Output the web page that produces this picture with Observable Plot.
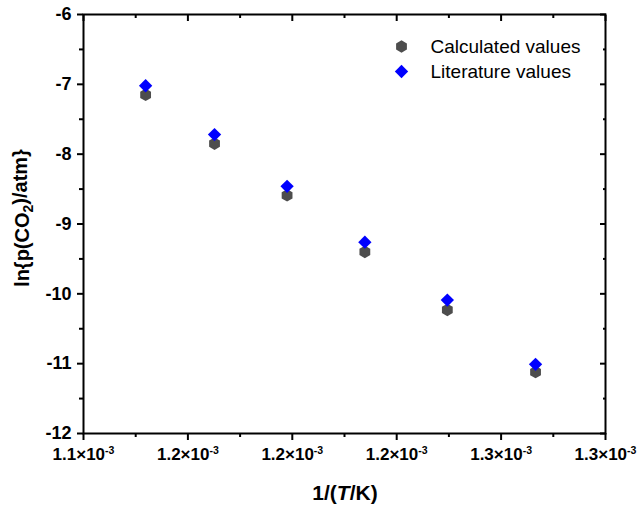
<!DOCTYPE html>
<html>
<head>
<meta charset="utf-8">
<script src="https://cdn.jsdelivr.net/npm/d3@7"></script>
<script src="https://cdn.jsdelivr.net/npm/@observablehq/plot@0.6"></script>
<style>
  html, body { margin: 0; padding: 0; background: #fff; }
  #chart { width: 641px; height: 508px; }
</style>
</head>
<body>
<div id="chart"></div>
<script>
// ---- data (x in units of 1e-3 K^-1) ----
const invT = [1.1438, 1.1702, 1.1980, 1.2278, 1.2594, 1.2932];
const calculated = [-7.15, -7.85, -8.59, -9.40, -10.23, -11.12];
const literature = [-7.02, -7.72, -8.46, -9.26, -10.09, -11.01];
const seriesNames = ["Calculated values", "Literature values"];

const xTicks = [1.12, 1.16, 1.20, 1.24, 1.28, 1.32];
const xTickLabels = ["1.1", "1.2", "1.2", "1.2", "1.3", "1.3"];
const xMinor = [1.14, 1.18, 1.22, 1.26, 1.30];
const yTicks = [-12, -11, -10, -9, -8, -7, -6];
const yMinor = [-11.5, -10.5, -9.5, -8.5, -7.5, -6.5];

const calcData = invT.map((x, i) => ({x, y: calculated[i]}));
const litData = invT.map((x, i) => ({x, y: literature[i]}));

const grey = "#4d4d4d", blue = "#0000ff";
const font = "'Liberation Sans', Arial, sans-serif";

const chart = Plot.plot({
  width: 641,
  height: 508,
  marginLeft: 83,
  marginRight: 36,
  marginTop: 14,
  marginBottom: 75,
  style: {fontFamily: font, fontSize: "17px", fontWeight: "bold", color: "#000", background: "#fff"},
  x: {domain: [1.12, 1.32]},
  y: {domain: [-12, -6]},
  marks: [
    Plot.frame({stroke: "#000", strokeWidth: 2}),
    Plot.axisX({ticks: xTicks, tickSize: 7, tickPadding: 7, strokeWidth: 2, label: null,
      fontSize: 17, fontWeight: "bold",
      tickFormat: d => xTickLabels[xTicks.indexOf(d)] + "|-3"}),
    Plot.axisX({ticks: xMinor, tickSize: 4, strokeWidth: 2, label: null, tickFormat: () => ""}),
    Plot.axisX({anchor: "top", ticks: xTicks, tickSize: -6, strokeWidth: 2, label: null, tickFormat: () => ""}),
    Plot.axisX({anchor: "top", ticks: xMinor, tickSize: -3, strokeWidth: 2, label: null, tickFormat: () => ""}),
    Plot.axisY({ticks: yTicks, tickSize: 6, tickPadding: 6, strokeWidth: 2, label: null,
      fontSize: 18, fontWeight: "bold",
      tickFormat: d => String(d)}),
    Plot.axisY({ticks: yMinor, tickSize: 4, strokeWidth: 2, label: null, tickFormat: () => ""}),
    Plot.axisY({anchor: "right", ticks: yTicks, tickSize: -6, strokeWidth: 2, label: null, tickFormat: () => ""}),
    Plot.axisY({anchor: "right", ticks: yMinor, tickSize: -3, strokeWidth: 2, label: null, tickFormat: () => ""}),
    Plot.dot(calcData, {x: "x", y: "y", symbol: "hexagon", fill: grey, r: 5.4}),
    Plot.dot(litData, {x: "x", y: "y", symbol: "diamond2", fill: blue, r: 6}),
    // legend
    Plot.dot([seriesNames[0]], {frameAnchor: "top-left", dx: 318, dy: 32, symbol: "hexagon", fill: grey, r: 5.4}),
    Plot.dot([seriesNames[1]], {frameAnchor: "top-left", dx: 318, dy: 57, symbol: "diamond2", fill: blue, r: 6}),
    Plot.text([seriesNames[0]], {frameAnchor: "top-left", dx: 347, dy: 32, text: d => d, textAnchor: "start", lineAnchor: "middle", fontSize: 19, fontWeight: "normal"}),
    Plot.text([seriesNames[1]], {frameAnchor: "top-left", dx: 347, dy: 57, text: d => d, textAnchor: "start", lineAnchor: "middle", fontSize: 19, fontWeight: "normal"})
  ]
});

// superscript exponents on x tick labels
d3.select(chart).selectAll('[aria-label="x-axis tick label"] text').each(function () {
  const s = this.textContent;
  if (!s.includes("|")) return;
  const [m, e] = s.split("|");
  const t = d3.select(this);
  t.text(null);
  t.append("tspan").text(m + "\u00d710");
  t.append("tspan").attr("dy", "-0.5em").attr("font-size", "0.62em").text(e);
});

// axis titles
const svg = d3.select(chart);
const yt = svg.append("text")
  .attr("transform", "translate(29,218) rotate(-90)")
  .attr("text-anchor", "middle")
  .attr("font-size", 20).attr("font-weight", "bold")
  .attr("font-family", font);
yt.append("tspan").text("ln{p(CO");
yt.append("tspan").attr("dy", "0.3em").attr("font-size", "0.7em").text("2");
yt.append("tspan").attr("dy", "-0.3em").text(")/atm}");

const xt = svg.append("text")
  .attr("x", 345).attr("y", 500)
  .attr("text-anchor", "middle")
  .attr("font-size", 21).attr("font-weight", "bold")
  .attr("font-family", font);
xt.append("tspan").text("1/(");
xt.append("tspan").attr("font-style", "italic").text("T");
xt.append("tspan").text("/K)");

document.getElementById("chart").appendChild(chart);
</script>
</body>
</html>
